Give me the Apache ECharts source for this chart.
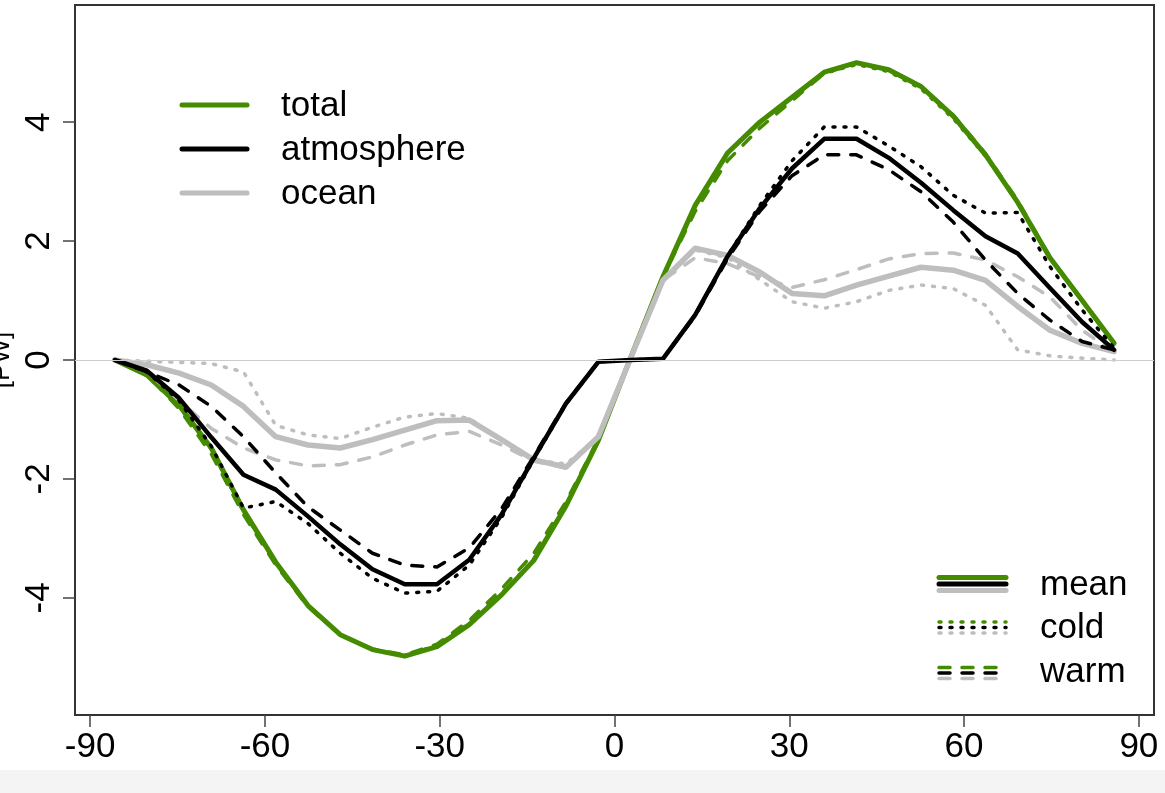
<!DOCTYPE html>
<html>
<head>
<meta charset="utf-8">
<script src="https://cdn.jsdelivr.net/npm/echarts@6/dist/echarts.min.js"></script>
<style>
  html, body { margin: 0; padding: 0; background: #fff; }
  #chart { width: 1165px; height: 793px; }
</style>
</head>
<body>
<div id="chart"></div>
<script>
// latitude of the model grid (T21 gaussian)
var lat = [-85.76, -80.27, -74.74, -69.21, -63.68, -58.14, -52.61, -47.07, -41.54, -36.00, -30.47,
  -24.93, -19.39, -13.85, -8.31, -2.77, 2.77, 8.31, 13.85, 19.39, 24.93, 30.47, 36.00, 41.54,
  47.07, 52.61, 58.14, 63.68, 69.21, 74.74, 80.27, 85.76];

// heat transport [PW]
var totalMean = [0, -0.25, -0.76, -1.48, -2.52, -3.4, -4.13, -4.62, -4.87, -4.98, -4.82, -4.45, -3.95, -3.37, -2.45, -1.35,
  0.04, 1.4, 2.6, 3.48, 4.0, 4.42, 4.84, 5.0, 4.88, 4.6, 4.1, 3.45, 2.65, 1.72, 1.0, 0.28];
var totalCold = [0, -0.26, -0.78, -1.5, -2.55, -3.42, -4.14, -4.62, -4.87, -4.97, -4.8, -4.43, -3.93, -3.35, -2.44, -1.35,
  0.04, 1.38, 2.58, 3.47, 4.0, 4.42, 4.82, 4.97, 4.85, 4.56, 4.06, 3.43, 2.65, 1.72, 1.0, 0.28];
var totalWarm = [0, -0.24, -0.82, -1.58, -2.6, -3.45, -4.15, -4.62, -4.86, -4.96, -4.78, -4.38, -3.85, -3.25, -2.38, -1.33,
  0.04, 1.4, 2.5, 3.35, 3.9, 4.36, 4.82, 4.99, 4.88, 4.6, 4.12, 3.47, 2.68, 1.73, 1.0, 0.28];

var atmMean = [0, -0.18, -0.64, -1.3, -1.93, -2.18, -2.63, -3.1, -3.52, -3.77, -3.77, -3.36, -2.6, -1.65, -0.73, -0.03,
  0.0, 0.02, 0.76, 1.74, 2.55, 3.22, 3.72, 3.72, 3.4, 2.98, 2.52, 2.08, 1.79, 1.21, 0.64, 0.17];
var atmCold = [0, -0.2, -0.68, -1.45, -2.49, -2.38, -2.75, -3.25, -3.67, -3.92, -3.89, -3.45, -2.65, -1.67, -0.74, -0.03,
  0.0, 0.02, 0.76, 1.75, 2.6, 3.35, 3.92, 3.92, 3.6, 3.25, 2.77, 2.47, 2.48, 1.57, 0.84, 0.2];
var atmWarm = [0, -0.2, -0.42, -0.78, -1.29, -1.9, -2.47, -2.86, -3.25, -3.45, -3.48, -3.16, -2.5, -1.62, -0.72, -0.03,
  0.0, 0.02, 0.74, 1.7, 2.5, 3.1, 3.45, 3.45, 3.2, 2.83, 2.32, 1.68, 1.12, 0.67, 0.31, 0.17];

var oceanMean = [0, -0.08, -0.22, -0.42, -0.78, -1.29, -1.43, -1.48, -1.34, -1.18, -1.02, -1.01, -1.34, -1.68, -1.8, -1.29,
  0.03, 1.34, 1.88, 1.76, 1.48, 1.12, 1.08, 1.26, 1.41, 1.56, 1.51, 1.34, 0.9, 0.5, 0.28, 0.14];
var oceanCold = [0, -0.02, -0.04, -0.06, -0.2, -1.1, -1.26, -1.32, -1.13, -0.96, -0.9, -0.98, -1.35, -1.68, -1.75, -1.29,
  0.03, 1.34, 1.85, 1.72, 1.35, 0.98, 0.87, 0.98, 1.17, 1.26, 1.2, 0.92, 0.17, 0.07, 0.03, 0.0];
var oceanWarm = [0, -0.2, -0.68, -1.15, -1.48, -1.68, -1.78, -1.76, -1.63, -1.43, -1.26, -1.2, -1.43, -1.7, -1.82, -1.29,
  0.03, 1.34, 1.72, 1.62, 1.4, 1.22, 1.35, 1.52, 1.7, 1.79, 1.8, 1.68, 1.4, 1.06, 0.5, 0.13];

var xTicks = [-90, -60, -30, 0, 30, 60, 90];
var yTicks = [-4, -2, 0, 2, 4];

var GREEN = '#458B00', BLACK = '#000000', GREY = '#BEBEBE';
var FONT = '"Liberation Sans", Arial, sans-serif';
var DOTTED = [2, 9], DASHED = [11, 12];

function pairs(vals) {
  return lat.map(function (l, i) { return [l, vals[i]]; });
}
function line(name, vals, color, width, type) {
  return {
    name: name,
    type: 'line',
    data: pairs(vals),
    showSymbol: false,
    silent: true,
    animation: false,
    lineStyle: { color: color, width: width, type: type, cap: 'round', join: 'round' }
  };
}

var chart = echarts.init(document.getElementById('chart'));

var series = [
  line('total', totalMean, GREEN, 5, 'solid'),
  line('total cold', totalCold, GREEN, 3.5, DOTTED),
  line('total warm', totalWarm, GREEN, 3.5, DASHED),
  line('ocean', oceanMean, GREY, 5.5, 'solid'),
  line('ocean cold', oceanCold, GREY, 3.5, DOTTED),
  line('ocean warm', oceanWarm, GREY, 3.5, DASHED),
  line('atmosphere', atmMean, BLACK, 4.5, 'solid'),
  line('atmosphere cold', atmCold, BLACK, 3.5, DOTTED),
  line('atmosphere warm', atmWarm, BLACK, 3.5, DASHED)
];
// zero line
series[0].markLine = {
  silent: true,
  symbol: 'none',
  label: { show: false },
  lineStyle: { color: '#cccccc', width: 1, type: 'solid' },
  data: [{ yAxis: 0 }]
};

// legend drawn by hand (R style stacked samples)
var graphics = [];
function legLine(x1, x2, y, color, width, dash) {
  graphics.push({
    type: 'line', silent: true, z: 10,
    shape: { x1: x1, y1: y, x2: x2, y2: y },
    style: { stroke: color, lineWidth: width, lineDash: dash || null, lineCap: 'round' }
  });
}
function legText(x, y, txt) {
  graphics.push({
    type: 'text', silent: true, z: 10, x: x, y: y,
    style: { text: txt, fill: '#000', font: '35px ' + FONT, textAlign: 'left', textVerticalAlign: 'middle' }
  });
}
legLine(182, 247, 105, GREEN, 5);
legLine(182, 247, 149, BLACK, 5);
legLine(182, 247, 193, GREY, 5);
legText(281, 106, 'total');
legText(281, 150, 'atmosphere');
legText(281, 194, 'ocean');

legLine(939, 1006, 577.5, GREEN, 5);
legLine(939, 1006, 584, BLACK, 5);
legLine(939, 1006, 590.5, GREY, 5);
legLine(939, 1006, 622, GREEN, 3.5, DOTTED);
legLine(939, 1006, 627.5, BLACK, 3.5, DOTTED);
legLine(939, 1006, 633, GREY, 3.5, DOTTED);
legLine(939, 1006, 667.5, GREEN, 3.5, DASHED);
legLine(939, 1006, 673, BLACK, 3.5, DASHED);
legLine(939, 1006, 678.5, GREY, 3.5, DASHED);
legText(1040, 585, 'mean');
legText(1040, 628.5, 'cold');
legText(1040, 672, 'warm');

// y axis title, mostly cut off at the left edge
graphics.push({
  type: 'text', silent: true, x: 1.5, y: 360, rotation: Math.PI / 2,
  style: { text: '[PW]', fill: '#000', font: '26px ' + FONT, textAlign: 'center', textVerticalAlign: 'middle' }
});
// grey strip at the bottom of the screenshot
graphics.push({
  type: 'rect', silent: true, z: -1,
  shape: { x: 0, y: 770, width: 1165, height: 23 },
  style: { fill: '#f4f4f4' }
});

chart.setOption({
  animation: false,
  backgroundColor: '#ffffff',
  grid: {
    left: 75, top: 5, width: 1079, height: 710,
    show: true, borderColor: '#333333', borderWidth: 2, backgroundColor: 'transparent'
  },
  xAxis: {
    type: 'value',
    min: -92.6, max: 92.6,
    axisLine: { show: false, onZero: false },
    splitLine: { show: false },
    axisTick: { show: true, length: 12, lineStyle: { color: '#444', width: 1.5 }, customValues: xTicks },
    axisLabel: { color: '#000', fontSize: 35, fontFamily: FONT, margin: 15, customValues: xTicks }
  },
  yAxis: {
    type: 'value',
    min: -5.97, max: 5.97,
    axisLine: { show: false, onZero: false },
    splitLine: { show: false },
    axisTick: { show: true, length: 12, lineStyle: { color: '#444', width: 1.5 }, customValues: yTicks },
    axisLabel: { color: '#000', fontSize: 35, fontFamily: FONT, margin: 18, rotate: 90, customValues: yTicks }
  },
  graphic: graphics,
  series: series
});
</script>
</body>
</html>
